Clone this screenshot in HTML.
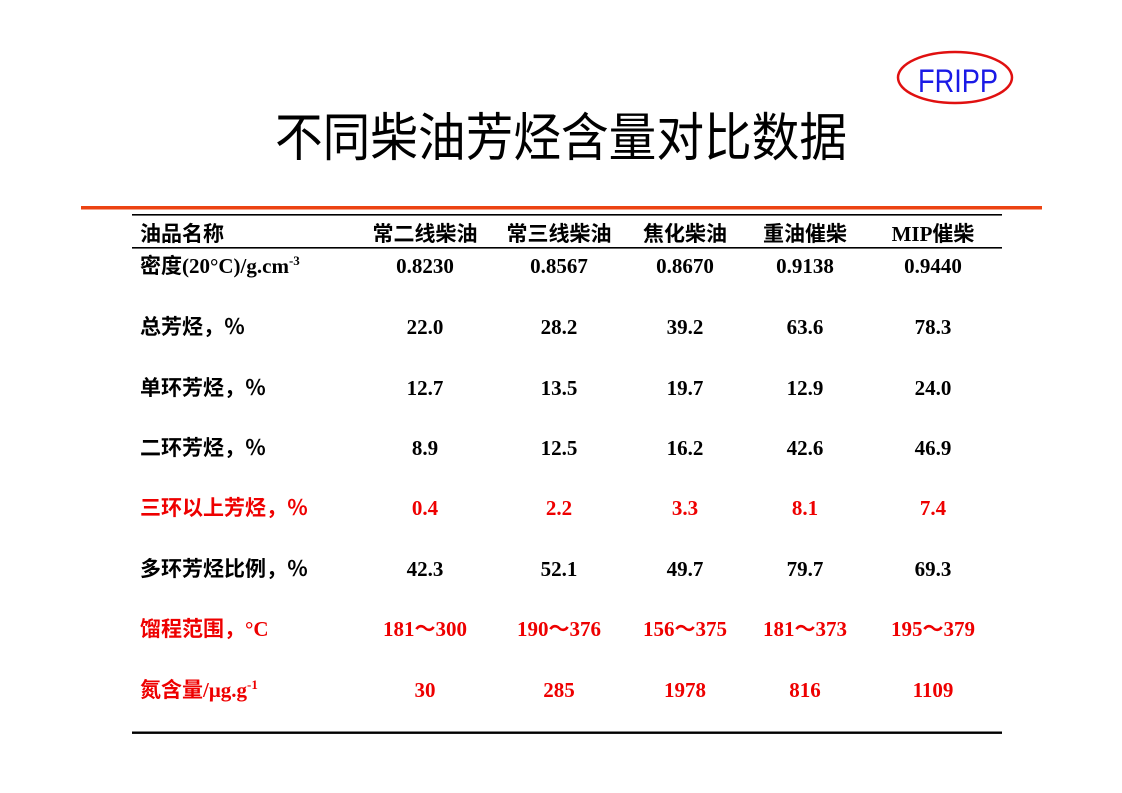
<!DOCTYPE html>
<html>
<head>
<meta charset="utf-8">
<style>
  html,body{margin:0;padding:0;background:#fff;}
  body{width:1122px;height:793px;overflow:hidden;position:relative;}
  svg{position:absolute;left:0;top:0;}
  .t{font-family:"Liberation Serif","Noto Sans CJK SC",serif;font-weight:700;font-size:21px;}
  .lab{font-family:"Liberation Serif","Noto Sans CJK SC",sans-serif;font-weight:700;font-size:21px;}
  .r{fill:#ee0000;}
</style>
</head>
<body>
<svg width="1122" height="793" viewBox="0 0 1122 793" xmlns="http://www.w3.org/2000/svg">
  <!-- logo -->
  <ellipse cx="955" cy="77.5" rx="57" ry="25.5" fill="none" stroke="#e01010" stroke-width="2.5"/>
  <text x="958" y="92" text-anchor="middle" font-family="Liberation Sans, sans-serif" font-size="32" fill="#1a1ae6" textLength="80" lengthAdjust="spacingAndGlyphs">FRIPP</text>

  <!-- title -->
  <text x="561" y="156" text-anchor="middle" font-family="Liberation Sans, Noto Sans CJK SC, sans-serif" font-size="52" fill="#000" textLength="572" lengthAdjust="spacingAndGlyphs">不同柴油芳烃含量对比数据</text>

  <!-- lines -->
  <rect x="81" y="206" width="961" height="3.5" fill="#ec4312"/>
  <rect x="132" y="214" width="870" height="1.6" fill="#000"/>
  <rect x="132" y="247" width="870" height="1.6" fill="#000"/>
  <rect x="132" y="731.5" width="870" height="2.4" fill="#000"/>

  <!-- header -->
  <g class="lab" fill="#000">
    <text x="140" y="241">油品名称</text>
    <text x="425" y="241" text-anchor="middle">常二线柴油</text>
    <text x="559" y="241" text-anchor="middle">常三线柴油</text>
    <text x="685" y="241" text-anchor="middle">焦化柴油</text>
    <text x="805" y="241" text-anchor="middle">重油催柴</text>
    <text x="933" y="241" text-anchor="middle">MIP催柴</text>
  </g>

  <!-- density -->
  <g class="t" fill="#000">
    <text x="140" y="273">密度(20°C)/g.cm<tspan font-size="13" dy="-8">-3</tspan></text>
    <text x="425" y="273" text-anchor="middle">0.8230</text>
    <text x="559" y="273" text-anchor="middle">0.8567</text>
    <text x="685" y="273" text-anchor="middle">0.8670</text>
    <text x="805" y="273" text-anchor="middle">0.9138</text>
    <text x="933" y="273" text-anchor="middle">0.9440</text>
  </g>

  <!-- rows -->
  <g class="t" fill="#000">
    <text x="140" y="334">总芳烃，％</text>
    <text x="425" y="334" text-anchor="middle">22.0</text>
    <text x="559" y="334" text-anchor="middle">28.2</text>
    <text x="685" y="334" text-anchor="middle">39.2</text>
    <text x="805" y="334" text-anchor="middle">63.6</text>
    <text x="933" y="334" text-anchor="middle">78.3</text>

    <text x="140" y="395">单环芳烃，％</text>
    <text x="425" y="395" text-anchor="middle">12.7</text>
    <text x="559" y="395" text-anchor="middle">13.5</text>
    <text x="685" y="395" text-anchor="middle">19.7</text>
    <text x="805" y="395" text-anchor="middle">12.9</text>
    <text x="933" y="395" text-anchor="middle">24.0</text>

    <text x="140" y="455">二环芳烃，％</text>
    <text x="425" y="455" text-anchor="middle">8.9</text>
    <text x="559" y="455" text-anchor="middle">12.5</text>
    <text x="685" y="455" text-anchor="middle">16.2</text>
    <text x="805" y="455" text-anchor="middle">42.6</text>
    <text x="933" y="455" text-anchor="middle">46.9</text>
  </g>

  <g class="t r">
    <text x="140" y="515">三环以上芳烃，％</text>
    <text x="425" y="515" text-anchor="middle">0.4</text>
    <text x="559" y="515" text-anchor="middle">2.2</text>
    <text x="685" y="515" text-anchor="middle">3.3</text>
    <text x="805" y="515" text-anchor="middle">8.1</text>
    <text x="933" y="515" text-anchor="middle">7.4</text>
  </g>

  <g class="t" fill="#000">
    <text x="140" y="576">多环芳烃比例，％</text>
    <text x="425" y="576" text-anchor="middle">42.3</text>
    <text x="559" y="576" text-anchor="middle">52.1</text>
    <text x="685" y="576" text-anchor="middle">49.7</text>
    <text x="805" y="576" text-anchor="middle">79.7</text>
    <text x="933" y="576" text-anchor="middle">69.3</text>
  </g>

  <g class="t r">
    <text x="140" y="636">馏程范围，°C</text>
    <text x="425" y="636" text-anchor="middle">181～300</text>
    <text x="559" y="636" text-anchor="middle">190～376</text>
    <text x="685" y="636" text-anchor="middle">156～375</text>
    <text x="805" y="636" text-anchor="middle">181～373</text>
    <text x="933" y="636" text-anchor="middle">195～379</text>

    <text x="140" y="697">氮含量/μg.g<tspan font-size="13" dy="-8">-1</tspan></text>
    <text x="425" y="697" text-anchor="middle">30</text>
    <text x="559" y="697" text-anchor="middle">285</text>
    <text x="685" y="697" text-anchor="middle">1978</text>
    <text x="805" y="697" text-anchor="middle">816</text>
    <text x="933" y="697" text-anchor="middle">1109</text>
  </g>
</svg>
</body>
</html>
